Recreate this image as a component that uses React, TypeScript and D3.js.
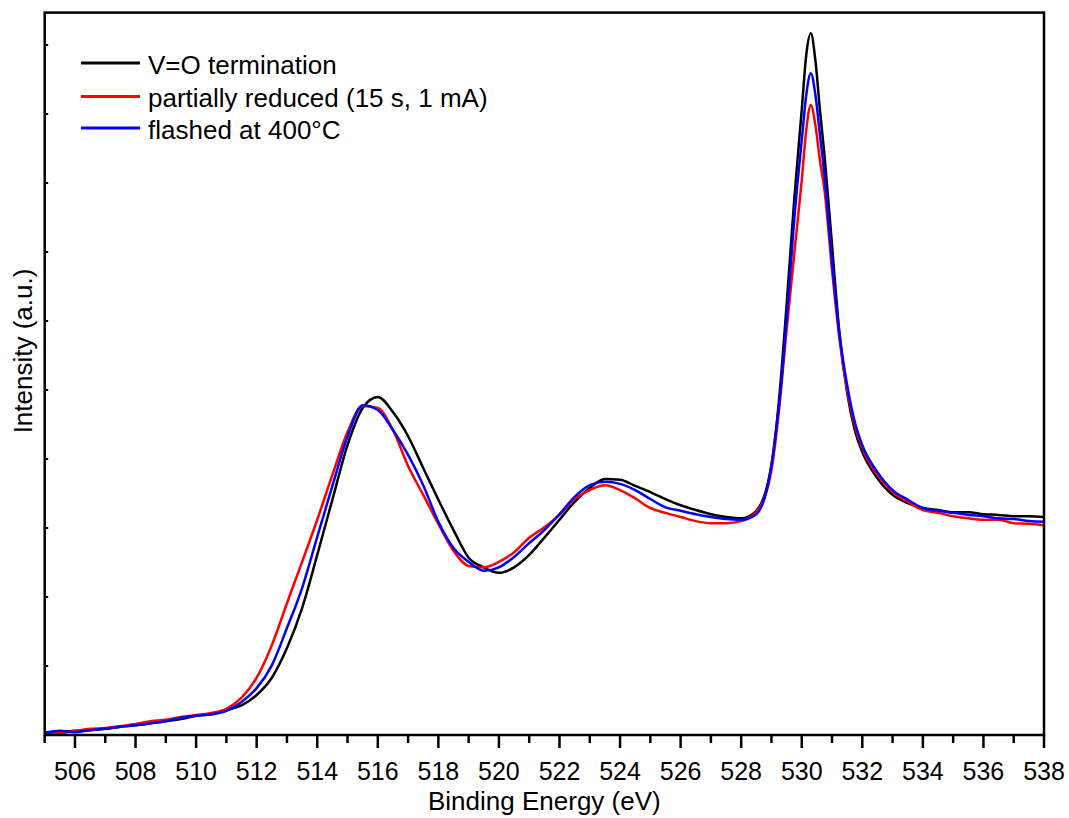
import React from 'react';
import * as d3 from 'd3';

// Binding energy grid (eV)
const energy = [
  505, 505.5, 506, 506.5, 507, 507.5, 508, 508.5, 509, 509.5, 510, 510.5, 511, 511.5,
  512, 512.5, 513, 513.5, 514, 514.5, 515, 515.5, 516, 516.5, 517, 517.5, 518, 518.5,
  519, 519.5, 520, 520.5, 521, 521.5, 522, 522.5, 523, 523.5, 524, 524.5, 525, 525.5,
  526, 526.5, 527, 527.5, 528, 528.5, 529,
  529.25, 529.5, 529.75, 530,
  530.15, 530.3, 530.45, 530.6, 530.75,
  531, 531.25, 531.5, 531.75, 532,
  532.5, 533, 533.5, 534, 534.5, 535, 535.5, 536, 536.5, 537, 537.5, 538,
];

// V=O termination (black)
const vOTermination = [
  0.03, 0.04, 0.06, 0.07, 0.09, 0.12, 0.14, 0.17, 0.2, 0.23, 0.28, 0.3, 0.36, 0.43,
  0.58, 0.83, 1.26, 1.84, 2.61, 3.41, 4.2, 4.74, 4.9, 4.68, 4.33, 3.87, 3.41, 2.97,
  2.57, 2.43, 2.35, 2.43, 2.61, 2.86, 3.12, 3.38, 3.58, 3.71, 3.7, 3.61, 3.52, 3.42,
  3.33, 3.26, 3.2, 3.16, 3.14, 3.25, 3.91,
  4.86, 6.23, 7.75, 9.06,
  9.86, 10.17, 9.78, 9.06, 8.41,
  7.1, 5.8, 4.96, 4.42, 4.1,
  3.72, 3.48, 3.36, 3.29, 3.26, 3.23, 3.23, 3.2, 3.19, 3.17, 3.17, 3.16,
];

// partially reduced (15 s, 1 mA) (red)
const partiallyReduced = [
  0.04, 0.03, 0.06, 0.09, 0.1, 0.13, 0.16, 0.2, 0.22, 0.26, 0.29, 0.32, 0.38, 0.54,
  0.83, 1.3, 1.91, 2.51, 3.12, 3.77, 4.39, 4.77, 4.74, 4.42, 3.9, 3.48, 3.06, 2.67,
  2.45, 2.43, 2.51, 2.65, 2.86, 3.01, 3.19, 3.42, 3.55, 3.62, 3.55, 3.43, 3.29, 3.22,
  3.16, 3.1, 3.07, 3.07, 3.1, 3.23, 3.84,
  4.71, 5.87, 6.96, 8.04,
  8.77, 9.13, 8.84, 8.33, 7.9,
  6.74, 5.72, 5.0, 4.49, 4.16,
  3.77, 3.52, 3.38, 3.26, 3.22, 3.17, 3.14, 3.12, 3.12, 3.07, 3.06, 3.04,
];

// flashed at 400°C (blue)
const flashed400 = [
  0.03, 0.06, 0.04, 0.07, 0.09, 0.12, 0.14, 0.17, 0.2, 0.25, 0.28, 0.3, 0.35, 0.48,
  0.68, 1.01, 1.55, 2.13, 2.87, 3.61, 4.32, 4.78, 4.71, 4.42, 4.06, 3.62, 3.09, 2.71,
  2.51, 2.38, 2.43, 2.58, 2.78, 2.97, 3.2, 3.45, 3.62, 3.67, 3.64, 3.55, 3.42, 3.3,
  3.25, 3.2, 3.16, 3.13, 3.12, 3.2, 3.91,
  4.78, 6.01, 7.46, 8.62,
  9.28, 9.59, 9.28, 8.7, 8.12,
  6.86, 5.8, 5.07, 4.54, 4.2,
  3.81, 3.55, 3.41, 3.29, 3.25, 3.22, 3.19, 3.17, 3.14, 3.13, 3.1, 3.09,
];

const seriesLabels = ['V=O termination', 'partially reduced (15 s, 1 mA)', 'flashed at 400°C'];
const seriesColors = ['#000000', '#ff0000', '#0000ff'];
const seriesValues = [vOTermination, partiallyReduced, flashed400];

const xMajorTicks = d3.range(506, 539, 2);
const xMinorTicks = d3.range(505, 538, 2);
const yTicks = d3.range(1, 11);

const FONT = '"Liberation Sans", Arial, Helvetica, sans-serif';

export default function App() {
  const W = 1069;
  const H = 818;
  const left = 44.7;
  const right = 1044;
  const top = 12.6;
  const bottom = 735;

  const x = d3.scaleLinear().domain([505, 538]).range([left, right]);
  const y = d3.scaleLinear().domain([0, 10.47]).range([bottom, top]);

  const line = d3
    .line<number>()
    .x((_, i) => x(energy[i]))
    .y((d) => y(d))
    .curve(d3.curveMonotoneX);

  return (
    <svg
      width={W}
      height={H}
      viewBox={`0 0 ${W} ${H}`}
      style={{ position: 'absolute', left: 0, top: 0, background: '#fff' }}
    >
      <defs>
        <clipPath id="plotClip">
          <rect x={left} y={top} width={right - left} height={bottom - top} />
        </clipPath>
      </defs>
      <rect x={0} y={0} width={W} height={H} fill="#fff" />

      <g clipPath="url(#plotClip)">
        {seriesValues.map((vals, k) => (
          <path
            key={k}
            d={line(vals) || ''}
            fill="none"
            stroke={seriesColors[k]}
            strokeWidth={2.5}
            strokeLinejoin="round"
          />
        ))}
      </g>

      {/* frame */}
      <rect
        x={left}
        y={top}
        width={right - left}
        height={bottom - top}
        fill="none"
        stroke="#000"
        strokeWidth={2.5}
      />

      {/* x ticks */}
      {xMajorTicks.map((t) => (
        <g key={'M' + t}>
          <line x1={x(t)} x2={x(t)} y1={bottom} y2={bottom + 13} stroke="#000" strokeWidth={2.5} />
          <text
            x={x(t)}
            y={780}
            textAnchor="middle"
            fontFamily={FONT}
            fontSize={25}
            fill="#000"
          >
            {t}
          </text>
        </g>
      ))}
      {xMinorTicks.map((t) => (
        <line key={'m' + t} x1={x(t)} x2={x(t)} y1={bottom} y2={bottom + 8} stroke="#000" strokeWidth={2.5} />
      ))}

      {/* y ticks (inward, unlabeled) */}
      {yTicks.map((t) => (
        <line key={'y' + t} x1={left} x2={left + 3.5} y1={y(t)} y2={y(t)} stroke="#000" strokeWidth={2} />
      ))}

      {/* axis titles */}
      <text
        x={(left + right) / 2}
        y={810}
        textAnchor="middle"
        fontFamily={FONT}
        fontSize={26}
        fill="#000"
      >
        Binding Energy (eV)
      </text>
      <text
        transform={`translate(32, 351) rotate(-90)`}
        textAnchor="middle"
        fontFamily={FONT}
        fontSize={26}
        fill="#000"
      >
        Intensity (a.u.)
      </text>

      {/* legend */}
      {seriesLabels.map((lab, k) => {
        const ly = [63, 96.5, 128][k];
        return (
          <g key={'lg' + k}>
            <line x1={81} x2={140} y1={ly} y2={ly} stroke={seriesColors[k]} strokeWidth={3} />
            <text x={148} y={ly + 10.5} fontFamily={FONT} fontSize={26} fill="#000">
              {lab}
            </text>
          </g>
        );
      })}
    </svg>
  );
}
